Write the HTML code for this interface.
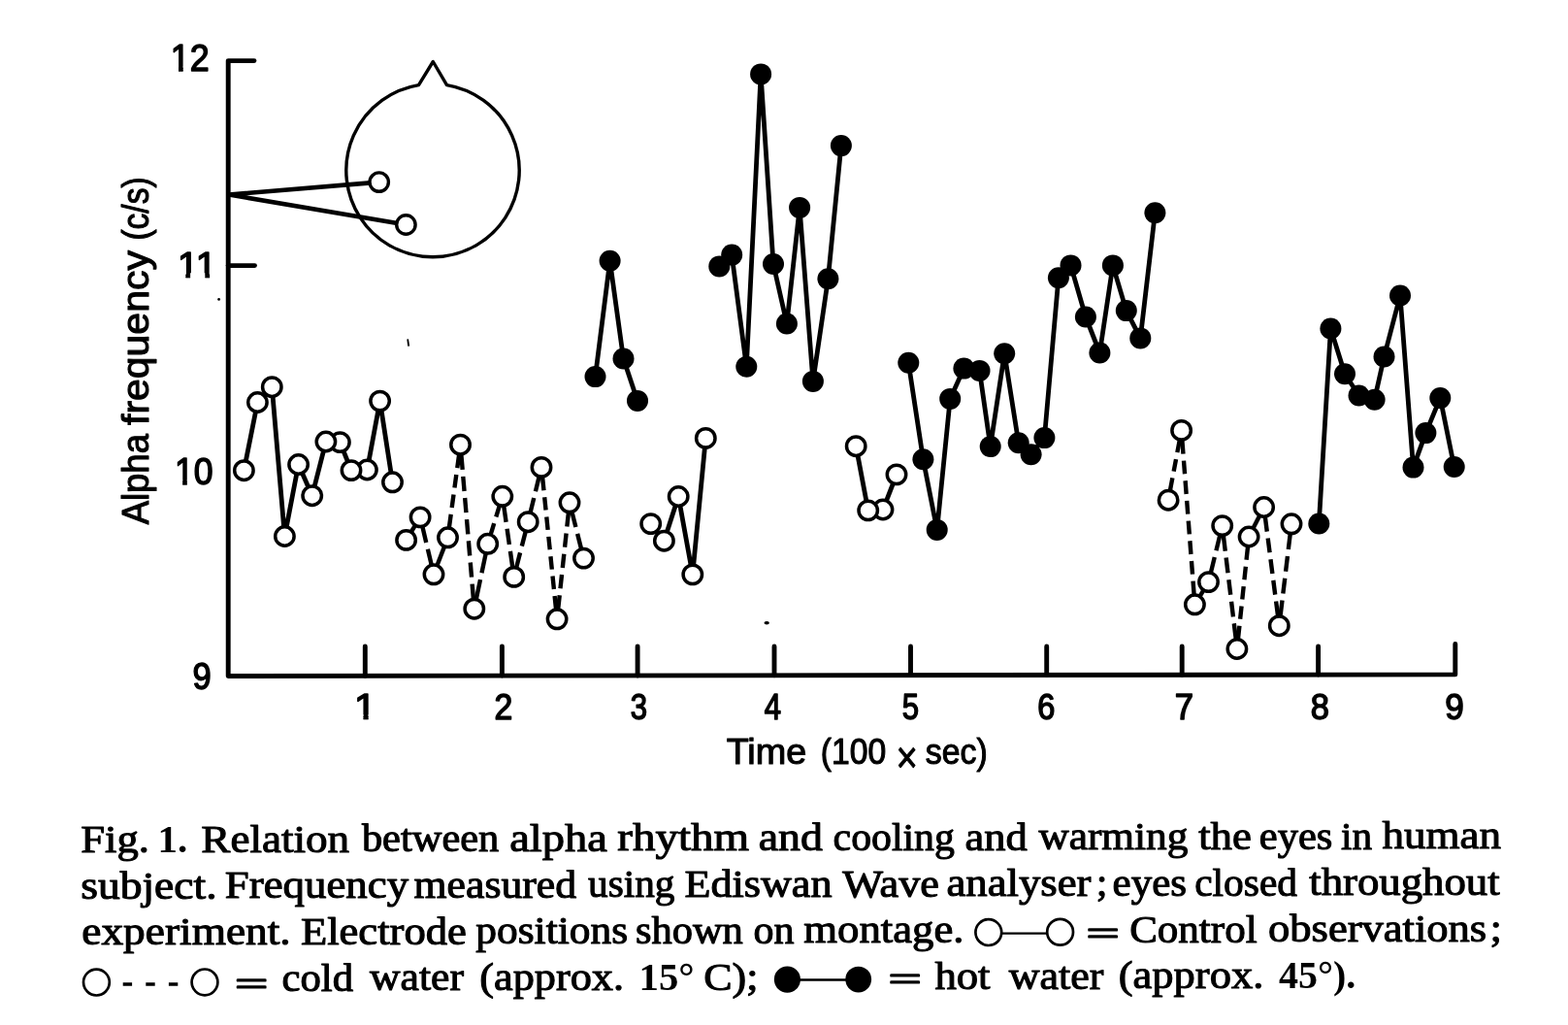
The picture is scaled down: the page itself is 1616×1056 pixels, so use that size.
<!DOCTYPE html>
<html lang="en">
<head>
<meta charset="utf-8">
<title>Fig. 1. Alpha frequency vs time</title>
<style>
html,body{margin:0;padding:0;background:#fff;}
body{width:1616px;height:1056px;overflow:hidden;}
svg{display:block;}
</style>
</head>
<body>
<svg width="1616" height="1056" viewBox="0 0 1616 1056">
<rect width="1616" height="1056" fill="#fff"/>
<g fill="none" stroke="#000" stroke-width="4.9" stroke-linecap="round" stroke-linejoin="round">
<path d="M262 62.6H235.2V696.5L1499.8 694.9V663.5"/>
<path d="M235.2 273.6H262.5"/>
<path d="M376.3 696.3V666"/>
<path d="M517.4 696.1V666"/>
<path d="M657.1 696.0V666"/>
<path d="M798 695.8V666"/>
<path d="M938.5 695.6V666"/>
<path d="M1078.7 695.4V666"/>
<path d="M1218.2 695.3V666"/>
<path d="M1358.6 695.1V666"/>
</g>
<g fill="none" stroke="#000" stroke-linejoin="round" stroke-linecap="round">
<path stroke-width="3.4" d="M431.5 87.6 A89.2 89.2 0 1 0 460.5 87.6 L446.3 63.5 Z"/>
<path stroke-width="4.7" stroke-linecap="butt" d="M390.7 187.6 L236 200.5 L418.4 231.5"/>
</g>
<g fill="#fff" stroke="#000" stroke-width="3.4"><circle cx="390.7" cy="187.6" r="9.7"/><circle cx="418.4" cy="231.5" r="9.7"/></g>
<g fill="none" stroke="#000" stroke-width="4.8" stroke-linejoin="round" stroke-linecap="butt">
<polyline points="251.4,484.7 265.4,414.5 280.3,398.7 293.4,552.5 307.6,478.5 321.7,510.7 335.9,455.0 350.4,455.6 362.0,484.6 378.4,484.0 391.6,413.1 404.5,496.8"/>
<polyline points="670.7,539.6 684.4,557.2 699.2,511.5 713.8,591.9 727.3,451.4"/>
<polyline points="882.2,459.7 894.7,525.9 910.0,525.0 924.0,488.9"/>
<polyline points="613.5,388.1 628.6,268.8 642.5,369.5 657.0,412.9"/>
<polyline points="741.3,274.4 754.2,262.6 769.3,377.8 784.1,76.4 797.0,272.0 810.9,333.5 824.1,213.9 837.9,392.9 853.4,287.3 866.9,150.1"/>
<polyline points="936.3,373.8 951.4,473.2 965.7,545.9 979.2,410.9 993.4,379.6 1009.5,381.9 1020.7,460.1 1035.2,364.2 1049.7,456.2 1062.6,468.2 1076.4,451.1 1090.9,286.2 1103.5,273.4 1118.9,326.5 1133.4,363.5 1146.9,273.4 1160.8,320.1 1175.3,348.4 1190.4,219.3"/>
<polyline points="1359.3,539.5 1371.4,338.5 1386.0,385.2 1400.5,407.5 1416.6,411.7 1426.5,367.5 1443.0,304.5 1456.5,481.6 1469.4,446.1 1484.3,410.1 1498.7,481.0"/>
</g>
<g fill="none" stroke="#000" stroke-width="4.4" stroke-linecap="butt">
<path d="M424.1 547.5L427.6 541.8" stroke-dasharray="6.61 7.0"/>
<path d="M435.5 543.1L444.6 581.6" stroke-dasharray="16.26 7.0"/>
<path d="M450.7 582.0L457.8 563.6" stroke-dasharray="19.67 7.0"/>
<path d="M462.9 543.4L473.1 468.6" stroke-dasharray="13.62 7.0"/>
<path d="M475.4 468.7L487.9 616.7" stroke-dasharray="15.23 7.0"/>
<path d="M490.9 616.9L500.6 570.6" stroke-dasharray="20.16 7.0"/>
<path d="M505.8 550.3L514.7 521.3" stroke-dasharray="11.64 7.0"/>
<path d="M519.3 521.7L528.2 584.0" stroke-dasharray="16.32 7.0"/>
<path d="M532.3 584.2L541.6 547.9" stroke-dasharray="15.26 7.0"/>
<path d="M546.7 527.5L555.5 491.6" stroke-dasharray="14.98 7.0"/>
<path d="M559.1 491.8L573.0 627.4" stroke-dasharray="13.46 7.0"/>
<path d="M575.2 627.4L585.9 528.2" stroke-dasharray="14.34 7.0"/>
<path d="M589.6 528.0L598.9 564.9" stroke-dasharray="15.55 7.0"/>
<path d="M1206.0 504.9L1215.7 453.7" stroke-dasharray="12.69 7.0"/>
<path d="M1218.4 453.9L1230.6 612.3" stroke-dasharray="13.74 7.0"/>
<path d="M1236.9 613.8L1240.0 608.6" stroke-dasharray="6.15 7.0"/>
<path d="M1248.0 589.4L1257.2 551.8" stroke-dasharray="15.86 7.0"/>
<path d="M1260.9 552.0L1273.7 658.1" stroke-dasharray="15.76 7.0"/>
<path d="M1276.0 658.1L1286.0 563.4" stroke-dasharray="13.43 7.0"/>
<path d="M1291.9 543.6L1297.8 531.9" stroke-dasharray="13.21 7.0"/>
<path d="M1303.9 532.9L1317.0 634.3" stroke-dasharray="14.84 7.0"/>
<path d="M1319.6 634.3L1329.7 550.2" stroke-dasharray="15.92 7.0"/>
</g>
<g fill="#fff" stroke="#000" stroke-width="3.5">
<circle cx="404.5" cy="496.8" r="9.7"/>
<circle cx="391.6" cy="413.1" r="9.7"/>
<circle cx="378.4" cy="484" r="9.7"/>
<circle cx="362" cy="484.6" r="9.7"/>
<circle cx="350.4" cy="455.6" r="9.7"/>
<circle cx="335.9" cy="455" r="9.7"/>
<circle cx="321.7" cy="510.7" r="9.7"/>
<circle cx="307.6" cy="478.5" r="9.7"/>
<circle cx="293.4" cy="552.5" r="9.7"/>
<circle cx="280.3" cy="398.7" r="9.7"/>
<circle cx="265.4" cy="414.5" r="9.7"/>
<circle cx="251.4" cy="484.7" r="9.7"/>
<circle cx="727.3" cy="451.4" r="9.7"/>
<circle cx="713.8" cy="591.9" r="9.7"/>
<circle cx="699.2" cy="511.5" r="9.7"/>
<circle cx="684.4" cy="557.2" r="9.7"/>
<circle cx="670.7" cy="539.6" r="9.7"/>
<circle cx="924" cy="488.9" r="9.7"/>
<circle cx="910" cy="525" r="9.7"/>
<circle cx="894.7" cy="525.9" r="9.7"/>
<circle cx="882.2" cy="459.7" r="9.7"/>
<circle cx="601.5" cy="575.1" r="9.7"/>
<circle cx="587" cy="517.8" r="9.7"/>
<circle cx="574.1" cy="637.8" r="9.7"/>
<circle cx="558" cy="481.4" r="9.7"/>
<circle cx="544.2" cy="537.7" r="9.7"/>
<circle cx="529.7" cy="594.4" r="9.7"/>
<circle cx="517.8" cy="511.3" r="9.7"/>
<circle cx="502.7" cy="560.3" r="9.7"/>
<circle cx="488.8" cy="627.2" r="9.7"/>
<circle cx="474.5" cy="458.2" r="9.7"/>
<circle cx="461.5" cy="553.8" r="9.7"/>
<circle cx="447" cy="591.8" r="9.7"/>
<circle cx="433.1" cy="532.9" r="9.7"/>
<circle cx="418.6" cy="556.4" r="9.7"/>
<circle cx="1331" cy="539.8" r="9.7"/>
<circle cx="1318.3" cy="644.7" r="9.7"/>
<circle cx="1302.6" cy="522.5" r="9.7"/>
<circle cx="1287.1" cy="553" r="9.7"/>
<circle cx="1274.9" cy="668.5" r="9.7"/>
<circle cx="1259.7" cy="541.6" r="9.7"/>
<circle cx="1245.5" cy="599.6" r="9.7"/>
<circle cx="1231.4" cy="622.8" r="9.7"/>
<circle cx="1217.6" cy="443.4" r="9.7"/>
<circle cx="1204.1" cy="515.2" r="9.7"/>
</g>
<g fill="#000">
<circle cx="613.5" cy="388.1" r="11"/>
<circle cx="628.6" cy="268.8" r="11"/>
<circle cx="642.5" cy="369.5" r="11"/>
<circle cx="657" cy="412.9" r="11"/>
<circle cx="741.3" cy="274.4" r="11"/>
<circle cx="754.2" cy="262.6" r="11"/>
<circle cx="769.3" cy="377.8" r="11"/>
<circle cx="784.1" cy="76.4" r="11"/>
<circle cx="797" cy="272" r="11"/>
<circle cx="810.9" cy="333.5" r="11"/>
<circle cx="824.1" cy="213.9" r="11"/>
<circle cx="837.9" cy="392.9" r="11"/>
<circle cx="853.4" cy="287.3" r="11"/>
<circle cx="866.9" cy="150.1" r="11"/>
<circle cx="936.3" cy="373.8" r="11"/>
<circle cx="951.4" cy="473.2" r="11"/>
<circle cx="965.7" cy="545.9" r="11"/>
<circle cx="979.2" cy="410.9" r="11"/>
<circle cx="993.4" cy="379.6" r="11"/>
<circle cx="1009.5" cy="381.9" r="11"/>
<circle cx="1020.7" cy="460.1" r="11"/>
<circle cx="1035.2" cy="364.2" r="11"/>
<circle cx="1049.7" cy="456.2" r="11"/>
<circle cx="1062.6" cy="468.2" r="11"/>
<circle cx="1076.4" cy="451.1" r="11"/>
<circle cx="1090.9" cy="286.2" r="11"/>
<circle cx="1103.5" cy="273.4" r="11"/>
<circle cx="1118.9" cy="326.5" r="11"/>
<circle cx="1133.4" cy="363.5" r="11"/>
<circle cx="1146.9" cy="273.4" r="11"/>
<circle cx="1160.8" cy="320.1" r="11"/>
<circle cx="1175.3" cy="348.4" r="11"/>
<circle cx="1190.4" cy="219.3" r="11"/>
<circle cx="1359.3" cy="539.5" r="11"/>
<circle cx="1371.4" cy="338.5" r="11"/>
<circle cx="1386" cy="385.2" r="11"/>
<circle cx="1400.5" cy="407.5" r="11"/>
<circle cx="1416.6" cy="411.7" r="11"/>
<circle cx="1426.5" cy="367.5" r="11"/>
<circle cx="1443" cy="304.5" r="11"/>
<circle cx="1456.5" cy="481.6" r="11"/>
<circle cx="1469.4" cy="446.1" r="11"/>
<circle cx="1484.3" cy="410.1" r="11"/>
<circle cx="1498.7" cy="481" r="11"/>
</g>
<g font-family="'Liberation Sans', sans-serif" fill="#000" stroke="#000" stroke-width="1.5" stroke-linejoin="round">
<clipPath id="nf1"><rect x="170.7" y="34.4" width="49.9" height="34.0"/><rect x="184.0" y="67.8" width="4.7" height="6.1"/><rect x="195.6" y="67.8" width="22.9" height="7.6"/></clipPath>
<text x="175.7" y="72.9" font-size="38.5" textLength="39.9" lengthAdjust="spacingAndGlyphs" clip-path="url(#nf1)">12</text>
<clipPath id="nf2"><rect x="178.1" y="249.1" width="50.1" height="32.2"/><rect x="191.4" y="280.7" width="4.7" height="5.9"/><rect x="211.4" y="280.7" width="4.7" height="5.9"/></clipPath>
<text x="183.1" y="285.6" font-size="36.5" textLength="40.1" lengthAdjust="spacingAndGlyphs" clip-path="url(#nf2)">11</text>
<clipPath id="nf3"><rect x="175.0" y="459.5" width="49.6" height="34.9"/><rect x="188.2" y="493.8" width="4.6" height="6.2"/><rect x="199.8" y="493.8" width="22.8" height="7.7"/></clipPath>
<text x="180.0" y="499.0" font-size="39.5" textLength="39.6" lengthAdjust="spacingAndGlyphs" clip-path="url(#nf3)">10</text>
<text x="198.4" y="710.2" font-size="39" textLength="19.2" lengthAdjust="spacingAndGlyphs">9</text>
<clipPath id="nf4"><rect x="360.0" y="704.1" width="32.7" height="32.2"/><rect x="374.5" y="735.7" width="5.1" height="5.9"/></clipPath>
<text x="365.0" y="740.6" font-size="36.5" textLength="22.7" lengthAdjust="spacingAndGlyphs" clip-path="url(#nf4)">1</text>
<text x="509.4" y="740.6" font-size="36.5" textLength="18.8" lengthAdjust="spacingAndGlyphs">2</text>
<text x="649.7" y="740.6" font-size="36.5" textLength="17.3" lengthAdjust="spacingAndGlyphs">3</text>
<text x="787.8" y="740.6" font-size="36.5" textLength="17.3" lengthAdjust="spacingAndGlyphs">4</text>
<text x="929.7" y="740.6" font-size="36.5" textLength="17.3" lengthAdjust="spacingAndGlyphs">5</text>
<text x="1069.3" y="740.6" font-size="36.5" textLength="18.1" lengthAdjust="spacingAndGlyphs">6</text>
<text x="1210.7" y="740.6" font-size="36.5" textLength="19.3" lengthAdjust="spacingAndGlyphs">7</text>
<text x="1350.7" y="740.6" font-size="36.5" textLength="19.2" lengthAdjust="spacingAndGlyphs">8</text>
<text x="1489.2" y="740.6" font-size="36.5" textLength="19.5" lengthAdjust="spacingAndGlyphs">9</text>
</g>
<g font-family="'Liberation Sans', sans-serif" fill="#000" stroke="#000" stroke-width="1.1" stroke-linejoin="round">
<text x="748.7" y="786.8" font-size="36.5" textLength="82.6" lengthAdjust="spacingAndGlyphs">Time</text>
<text x="845.8" y="786.8" font-size="36.5" textLength="67.4" lengthAdjust="spacingAndGlyphs">(100</text>
<text x="923.4" y="796.3" font-size="46" textLength="22.3" lengthAdjust="spacingAndGlyphs" stroke-width="0.9">×</text>
<text x="953.8" y="786.8" font-size="36.5" textLength="64.0" lengthAdjust="spacingAndGlyphs">sec)</text>
<g transform="translate(152.6 540) rotate(-90)">
<text x="-0.3" y="0" font-size="38" textLength="93.2" lengthAdjust="spacingAndGlyphs">Alpha</text>
<text x="102.0" y="0" font-size="38" textLength="179.9" lengthAdjust="spacingAndGlyphs">frequency</text>
<text x="292.4" y="0" font-size="38" textLength="65.2" lengthAdjust="spacingAndGlyphs">(c/s)</text>
</g>
</g>
<g font-family="'Liberation Serif', serif" font-size="40" fill="#000" stroke="#000" stroke-width="1.05" stroke-linejoin="round">
<text><tspan x="83.3" y="877.9" textLength="70.6" lengthAdjust="spacingAndGlyphs">Fig.</tspan> <tspan x="162.5" y="877.7" textLength="30.7" lengthAdjust="spacingAndGlyphs" font-weight="bold" stroke-width="0">1.</tspan> <tspan x="207.3" y="877.5" textLength="152.8" lengthAdjust="spacingAndGlyphs">Relation</tspan> <tspan x="372.9" y="877.0" textLength="141.4" lengthAdjust="spacingAndGlyphs">between</tspan> <tspan x="525.2" y="876.7" textLength="100.6" lengthAdjust="spacingAndGlyphs">alpha</tspan> <tspan x="636.3" y="876.3" textLength="135.7" lengthAdjust="spacingAndGlyphs">rhythm</tspan> <tspan x="781.8" y="876.0" textLength="66.1" lengthAdjust="spacingAndGlyphs">and</tspan> <tspan x="858.6" y="875.7" textLength="125.3" lengthAdjust="spacingAndGlyphs">cooling</tspan> <tspan x="994.5" y="875.5" textLength="64.2" lengthAdjust="spacingAndGlyphs">and</tspan> <tspan x="1070.4" y="875.1" textLength="154.0" lengthAdjust="spacingAndGlyphs">warming</tspan> <tspan x="1235.2" y="874.8" textLength="54.7" lengthAdjust="spacingAndGlyphs">the</tspan> <tspan x="1297.8" y="874.6" textLength="75.5" lengthAdjust="spacingAndGlyphs">eyes</tspan> <tspan x="1382.1" y="874.5" textLength="32.1" lengthAdjust="spacingAndGlyphs">in</tspan> <tspan x="1424.4" y="874.2" textLength="122.6" lengthAdjust="spacingAndGlyphs">human</tspan></text>
<text><tspan x="83.2" y="925.6" textLength="140.4" lengthAdjust="spacingAndGlyphs">subject.</tspan> <tspan x="231.8" y="925.1" textLength="189.3" lengthAdjust="spacingAndGlyphs">Frequency</tspan> <tspan x="426.6" y="924.7" textLength="167.5" lengthAdjust="spacingAndGlyphs">measured</tspan> <tspan x="606.1" y="924.3" textLength="89.3" lengthAdjust="spacingAndGlyphs">using</tspan> <tspan x="705.4" y="923.9" textLength="152.2" lengthAdjust="spacingAndGlyphs">Ediswan</tspan> <tspan x="868.2" y="923.6" textLength="99.8" lengthAdjust="spacingAndGlyphs">Wave</tspan> <tspan x="975.4" y="923.2" textLength="149.1" lengthAdjust="spacingAndGlyphs">analyser</tspan> <tspan x="1129.9" y="923.0" textLength="11.3" lengthAdjust="spacingAndGlyphs">;</tspan> <tspan x="1146.6" y="922.8" textLength="76.5" lengthAdjust="spacingAndGlyphs">eyes</tspan> <tspan x="1231.2" y="922.6" textLength="105.8" lengthAdjust="spacingAndGlyphs">closed</tspan> <tspan x="1349.2" y="922.1" textLength="196.5" lengthAdjust="spacingAndGlyphs">throughout</tspan></text>
<text><tspan x="84.3" y="973.3" textLength="215.4" lengthAdjust="spacingAndGlyphs">experiment.</tspan> <tspan x="309.9" y="972.8" textLength="171.0" lengthAdjust="spacingAndGlyphs">Electrode</tspan> <tspan x="490.3" y="972.3" textLength="156.8" lengthAdjust="spacingAndGlyphs">positions</tspan> <tspan x="655.0" y="971.9" textLength="110.8" lengthAdjust="spacingAndGlyphs">shown</tspan> <tspan x="776.6" y="971.7" textLength="42.0" lengthAdjust="spacingAndGlyphs">on</tspan> <tspan x="828.3" y="971.4" textLength="165.2" lengthAdjust="spacingAndGlyphs">montage.</tspan> <tspan x="1119.8" y="972.6" textLength="33.7" lengthAdjust="spacingAndGlyphs" font-size="34" stroke-width="1.7">=</tspan> <tspan x="1164.2" y="970.5" textLength="131.4" lengthAdjust="spacingAndGlyphs">Control</tspan> <tspan x="1307.1" y="970.0" textLength="225.0" lengthAdjust="spacingAndGlyphs">observations</tspan> <tspan x="1535.7" y="969.7" textLength="12.1" lengthAdjust="spacingAndGlyphs">;</tspan></text>
<text><tspan x="242.2" y="1024.6" textLength="33.8" lengthAdjust="spacingAndGlyphs" font-size="34" stroke-width="1.7">=</tspan> <tspan x="290.5" y="1020.6" textLength="73.5" lengthAdjust="spacingAndGlyphs">cold</tspan> <tspan x="381.1" y="1020.4" textLength="96.8" lengthAdjust="spacingAndGlyphs">water</tspan> <tspan x="494.3" y="1020.0" textLength="148.7" lengthAdjust="spacingAndGlyphs">(approx.</tspan> <tspan x="658.5" y="1019.7" textLength="57.1" lengthAdjust="spacingAndGlyphs" font-weight="bold" stroke-width="0">15°</tspan> <tspan x="725.3" y="1019.5" textLength="56.2" lengthAdjust="spacingAndGlyphs">C);</tspan> <tspan x="915.7" y="1020.0" textLength="33.8" lengthAdjust="spacingAndGlyphs" font-size="34" stroke-width="1.7">=</tspan> <tspan x="963.4" y="1018.9" textLength="57.1" lengthAdjust="spacingAndGlyphs">hot</tspan> <tspan x="1039.8" y="1018.6" textLength="97.7" lengthAdjust="spacingAndGlyphs">water</tspan> <tspan x="1152.8" y="1018.2" textLength="149.5" lengthAdjust="spacingAndGlyphs">(approx.</tspan> <tspan x="1318.0" y="1017.9" textLength="79.3" lengthAdjust="spacingAndGlyphs" font-weight="bold" stroke-width="0">45°).</tspan></text>
</g>
<g fill="none" stroke="#000" stroke-width="2.7">
<circle cx="1018.8" cy="960.6" r="13.4"/><circle cx="1092.6" cy="960.3" r="13.4"/><path d="M1032 961.6H1079" stroke-width="2.4"/>
<circle cx="99.4" cy="1012.1" r="13.4"/><circle cx="211" cy="1011.9" r="13.4"/><path d="M126.7 1014H183.4" stroke-width="3.6" stroke-dasharray="9.4 14.2"/>
<path d="M824 1009.5H872" stroke-width="2.4"/>
</g>
<g fill="#000"><circle cx="811.4" cy="1009.1" r="13.6"/><circle cx="884.7" cy="1009.1" r="13.4"/></g>
<g fill="#000"><circle cx="225.6" cy="308.4" r="1.4"/><ellipse cx="790.2" cy="641.7" rx="2.7" ry="1.7"/><path d="M419.3 349.4L421 349.2L422.2 356.6L420.2 356.8Z"/></g>
</svg>
</body>
</html>
